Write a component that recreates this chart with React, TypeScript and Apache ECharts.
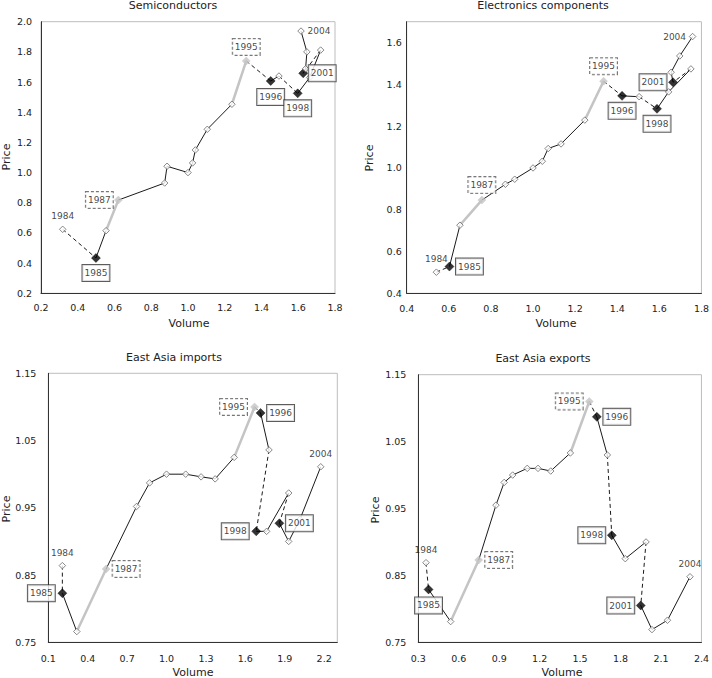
import React, { useEffect, useRef } from "react";
import * as echarts from "echarts";

// Years along each price/volume path
const years = [
  1984, 1985, 1986, 1987, 1988, 1989, 1990, 1991, 1992, 1993, 1994,
  1995, 1996, 1997, 1998, 1999, 2000, 2001, 2002, 2003, 2004,
];

// Semiconductors
const semiVolume = [
  0.318, 0.499, 0.554, 0.621, 0.873, 0.886, 1.0, 1.025, 1.04, 1.105, 1.239,
  1.317, 1.45, 1.495, 1.597, 1.662, 1.722, 1.627, 1.64, 1.647, 1.615,
];
const semiPrice = [
  0.624, 0.434, 0.615, 0.818, 0.931, 1.042, 1.0, 1.064, 1.15, 1.287, 1.453,
  1.74, 1.607, 1.64, 1.525, 1.63, 1.812, 1.658, 1.688, 1.8, 1.938,
];

// Electronics components
const elecVolume = [
  0.541, 0.603, 0.653, 0.757, 0.869, 0.913, 1.0, 1.044, 1.072, 1.133, 1.246,
  1.335, 1.423, 1.504, 1.589, 1.644, 1.75, 1.665, 1.656, 1.697, 1.758,
];
const elecPrice = [
  0.501, 0.528, 0.726, 0.846, 0.922, 0.946, 1.0, 1.032, 1.093, 1.115, 1.229,
  1.415, 1.345, 1.341, 1.283, 1.364, 1.474, 1.41, 1.458, 1.536, 1.629,
];

// East Asia imports
const importVolume = [
  0.207, 0.207, 0.317, 0.54, 0.772, 0.871, 1.0, 1.146, 1.263, 1.37, 1.515,
  1.67, 1.716, 1.78, 1.683, 1.762, 1.93, 1.859, 1.93, 2.016, 2.174,
];
const importPrice = [
  0.864, 0.823, 0.766, 0.859, 0.952, 0.987, 1.0, 1.0, 0.996, 0.993, 1.025,
  1.1, 1.091, 1.036, 0.915, 0.915, 0.972, 0.927, 0.9, 0.933, 1.011,
];

// East Asia exports
const exportVolume = [
  0.357, 0.376, 0.54, 0.748, 0.876, 0.937, 1.0, 1.108, 1.188, 1.282, 1.428,
  1.568, 1.624, 1.702, 1.735, 1.835, 1.989, 1.95, 2.033, 2.148, 2.315,
];
const exportPrice = [
  0.869, 0.829, 0.781, 0.873, 0.955, 0.989, 1.0, 1.01, 1.01, 1.006, 1.033,
  1.11, 1.087, 1.03, 0.91, 0.875, 0.9, 0.805, 0.769, 0.783, 0.848,
];

// Style of each year-to-year step (20 steps)
const stepKinds = [
  "dash", "solid", "gray", "solid", "solid", "solid", "solid", "solid",
  "solid", "solid", "gray", "dash", "solid", "dash", "solid", "solid",
  "dash", "solid", "solid", "solid",
];

const blackYears = [1985, 1996, 1998, 2001];
const grayYears = [1987, 1995];
const plainLabelYears = [1984, 2004];

const FONT = "DejaVu Sans";

type Panel = {
  title: string;
  volume: number[];
  price: number[];
  grid: { left: number; top: number; width: number; height: number };
  x: { min: number; max: number; interval: number; digits: number; margin: number };
  y: { min: number; max: number; interval: number; digits: number; margin: number };
  titlePos: [number, number];
  priceLabelPos: [number, number];
  volumeLabelPos: [number, number];
  labelOffsets: Record<number, [number, number]>;
};

const panels: Panel[] = [
  {
    title: "Semiconductors",
    volume: semiVolume,
    price: semiPrice,
    grid: { left: 41, top: 21.7, width: 294, height: 271.6 },
    x: { min: 0.2, max: 1.8, interval: 0.2, digits: 1, margin: 9 },
    y: { min: 0.2, max: 2.0, interval: 0.2, digits: 1, margin: 9 },
    titlePos: [173, 5],
    priceLabelPos: [6, 157],
    volumeLabelPos: [189, 323],
    labelOffsets: {
      1984: [0, -13], 1985: [0, 15], 1987: [-19, 0], 1995: [0, -14],
      1996: [0, 16], 1998: [0, 15], 2001: [19, 0], 2004: [18, 0],
    },
  },
  {
    title: "Electronics components",
    volume: elecVolume,
    price: elecPrice,
    grid: { left: 406.7, top: 21.7, width: 298.3, height: 271.6 },
    x: { min: 0.4, max: 1.8, interval: 0.2, digits: 1, margin: 10 },
    y: { min: 0.4, max: 1.7, interval: 0.2, digits: 1, margin: 5 },
    titlePos: [543, 5],
    priceLabelPos: [369.5, 158],
    volumeLabelPos: [556, 323],
    labelOffsets: {
      1984: [0, -13], 1985: [20, 0], 1987: [0, -15], 1995: [0, -15],
      1996: [0, 15], 1998: [0, 15], 2001: [-20, 0], 2004: [-18, 0],
    },
  },
  {
    title: "East Asia imports",
    volume: importVolume,
    price: importPrice,
    grid: { left: 48.3, top: 373.3, width: 289, height: 269 },
    x: { min: 0.1, max: 2.3, interval: 0.3, digits: 1, margin: 11 },
    y: { min: 0.75, max: 1.15, interval: 0.1, digits: 2, margin: 12 },
    titlePos: [174, 357],
    priceLabelPos: [6, 509],
    volumeLabelPos: [193, 672],
    labelOffsets: {
      1984: [0, -13], 1985: [-21, 0], 1987: [20, 0], 1995: [-21, 0],
      1996: [20, 0], 1998: [-21, 0], 2001: [20, 0], 2004: [0, -13],
    },
  },
  {
    title: "East Asia exports",
    volume: exportVolume,
    price: exportPrice,
    grid: { left: 418.3, top: 374.7, width: 286.7, height: 267.6 },
    x: { min: 0.3, max: 2.4, interval: 0.3, digits: 1, margin: 11 },
    y: { min: 0.75, max: 1.15, interval: 0.1, digits: 2, margin: 12 },
    titlePos: [543, 358],
    priceLabelPos: [375.5, 510],
    volumeLabelPos: [562, 672],
    labelOffsets: {
      1984: [0, -13], 1985: [0, 16], 1987: [20, 0], 1995: [-20, 0],
      1996: [20, 0], 1998: [-20, 0], 2001: [-20, 0], 2004: [0, -13],
    },
  },
];

const lineStyles: Record<string, any> = {
  solid: { color: "#1a1a1a", width: 1, type: "solid" },
  dash: { color: "#1a1a1a", width: 1, type: [4, 3] },
  gray: { color: "#c4c4c4", width: 2.5, type: "solid" },
};

function buildOption() {
  const grids: any[] = [];
  const xAxes: any[] = [];
  const yAxes: any[] = [];
  const series: any[] = [];
  const graphics: any[] = [];

  panels.forEach((p, pi) => {
    grids.push({
      ...p.grid,
      show: true,
      borderColor: "#bdbdbd",
      borderWidth: 1,
      backgroundColor: "transparent",
    });
    const axisCommon = (cfg: Panel["x"]) => ({
      gridIndex: pi,
      type: "value",
      min: cfg.min,
      max: cfg.max,
      interval: cfg.interval,
      axisLine: { show: true, onZero: false, lineStyle: { color: "#333", width: 1 } },
      axisTick: { show: false },
      splitLine: { show: false },
      axisLabel: {
        fontFamily: FONT,
        fontSize: 9.5,
        color: "#222",
        margin: cfg.margin,
        showMaxLabel: Math.abs(((cfg.max - cfg.min) / cfg.interval) % 1) < 1e-6 ||
          Math.abs(((cfg.max - cfg.min) / cfg.interval) % 1 - 1) < 1e-6,
        formatter: (v: number) => v.toFixed(cfg.digits),
      },
    });
    xAxes.push(axisCommon(p.x));
    yAxes.push(axisCommon(p.y));

    // Path segments, grouped into runs of the same style
    let start = 0;
    for (let i = 1; i <= stepKinds.length; i++) {
      if (i === stepKinds.length || stepKinds[i] !== stepKinds[start]) {
        const pts: number[][] = [];
        for (let k = start; k <= i; k++) pts.push([p.volume[k], p.price[k]]);
        series.push({
          type: "line",
          xAxisIndex: pi,
          yAxisIndex: pi,
          data: pts,
          showSymbol: false,
          symbol: "none",
          silent: true,
          z: stepKinds[start] === "gray" ? 3 : 2,
          lineStyle: lineStyles[stepKinds[start]],
        });
        start = i;
      }
    }

    // Year markers with labels
    const points = years.map((yr, i) => {
      const isBlack = blackYears.includes(yr);
      const isGray = grayYears.includes(yr);
      const off = p.labelOffsets[yr];
      const boxed = off && !plainLabelYears.includes(yr);
      const dashed = grayYears.includes(yr);
      return {
        value: [p.volume[i], p.price[i]],
        symbolSize: isBlack ? 9 : isGray ? 8 : 6.5,
        itemStyle: isBlack
          ? { color: "#000", borderColor: "#000", borderWidth: 0.5 }
          : isGray
          ? { color: "#c4c4c4", borderColor: "#c4c4c4", borderWidth: 0.5 }
          : { color: "#fff", borderColor: "#6a6a6a", borderWidth: 1 },
        label: off
          ? {
              show: true,
              position: "inside",
              offset: off,
              formatter: String(yr),
              fontFamily: FONT,
              fontSize: 9,
              lineHeight: 11,
              color: "#111",
              backgroundColor: boxed ? "#fff" : "transparent",
              borderColor: boxed ? (dashed ? "#555" : "#333") : "transparent",
              borderWidth: boxed ? 1 : 0,
              borderType: dashed ? [3, 2] : "solid",
              padding: boxed ? [3, 2, 2, 2] : 0,
            }
          : { show: false },
      };
    });
    series.push({
      type: "scatter",
      xAxisIndex: pi,
      yAxisIndex: pi,
      symbol: "diamond",
      data: points,
      silent: true,
      z: 4,
    });

    graphics.push(
      {
        type: "text",
        x: p.titlePos[0],
        y: p.titlePos[1],
        style: {
          text: p.title,
          fontFamily: FONT,
          fontSize: 11,
          fill: "#222",
          align: "center",
          verticalAlign: "middle",
        },
      },
      {
        type: "text",
        x: p.volumeLabelPos[0],
        y: p.volumeLabelPos[1],
        style: {
          text: "Volume",
          fontFamily: FONT,
          fontSize: 11,
          fill: "#222",
          align: "center",
          verticalAlign: "middle",
        },
      },
      {
        type: "text",
        x: p.priceLabelPos[0],
        y: p.priceLabelPos[1],
        rotation: Math.PI / 2,
        style: {
          text: "Price",
          fontFamily: FONT,
          fontSize: 11,
          fill: "#222",
          align: "center",
          verticalAlign: "middle",
        },
      }
    );
  });

  return {
    animation: false,
    backgroundColor: "#fff",
    grid: grids,
    xAxis: xAxes,
    yAxis: yAxes,
    series,
    graphic: graphics,
  };
}

export default function App() {
  const ref = useRef<HTMLDivElement>(null);
  useEffect(() => {
    if (!ref.current) return;
    const chart = echarts.init(ref.current, undefined, { renderer: "svg" });
    chart.setOption(buildOption());
    return () => chart.dispose();
  }, []);
  return (
    <div
      ref={ref}
      style={{ position: "absolute", left: 0, top: 0, width: 712, height: 678 }}
    />
  );
}
